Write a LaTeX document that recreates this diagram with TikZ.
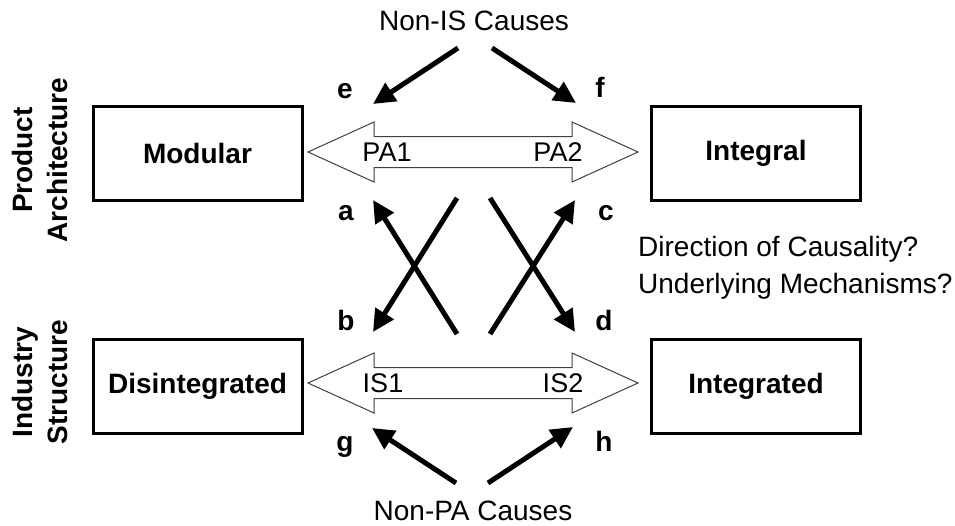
\documentclass[tikz,border=0pt]{standalone}
\usepackage{fontspec}
\setmainfont{Liberation Sans}
\usetikzlibrary{arrows.meta}
\begin{document}
\begin{tikzpicture}[x=1pt,y=-1pt,
  box/.style={draw, line width=3pt, minimum width=209pt, minimum height=94pt, inner sep=0pt,
    font=\fontsize{28}{34}\selectfont\bfseries},
  side/.style={rotate=90, align=center, inner sep=0pt, font=\fontsize{28}{35}\selectfont\bfseries},
  cause/.style={inner sep=0pt, font=\fontsize{28}{34}\selectfont},
  note/.style={inner sep=0pt, anchor=base west, font=\fontsize{28}{34}\selectfont},
  letter/.style={inner sep=0pt, anchor=base, font=\fontsize{28}{34}\selectfont\bfseries},
  dlabel/.style={inner sep=0pt, font=\fontsize{27}{32}\selectfont},
  dblarrow/.style={draw=black!75, line width=1pt, fill=white, line join=miter},
  causal/.style={line width=5pt, -{Triangle[length=22pt,width=21pt]}}
]
\useasboundingbox[fill=white] (0,0) rectangle (955,525);

% boxes
\node[box] (mod) at (197.5,153) {Modular};
\node[box] (int) at (756,153) {Integral};
\node[box] (dis) at (197.5,386) {Disintegrated};
\node[box] (intd) at (756,386) {Integrated};

% side labels
\node[side] (pa) at (40,160) {Product\\Architecture};
\node[side] (is) at (40,382) {Industry\\Structure};

% double arrows
\draw[dblarrow] (308,152) -- (374,122) -- (374,136.5) -- (572,136.5) -- (572,122) -- (638,152)
  -- (572,182) -- (572,167.5) -- (374,167.5) -- (374,182) -- cycle;
\draw[dblarrow] (308,383) -- (374,353) -- (374,367.5) -- (572,367.5) -- (572,353) -- (638,383)
  -- (572,413) -- (572,398.5) -- (374,398.5) -- (374,413) -- cycle;
\node[dlabel] (pa1) at (387,152) {PA1};
\node[dlabel] (pa2) at (558,152) {PA2};
\node[dlabel] (is1) at (383,383) {IS1};
\node[dlabel] (is2) at (563,383) {IS2};

% cause texts
\node[cause] (nis) at (474,21) {Non-IS Causes};
\node[cause] (npa) at (473,511) {Non-PA Causes};
\node[note] (q1) at (638,256) {Direction of Causality?};
\node[note] (q2) at (638,293) {Underlying Mechanisms?};

% letters
\node[letter] (le) at (345,98) {e};
\node[letter] (lf) at (600,97) {f};
\node[letter] (la) at (346,220) {a};
\node[letter] (lc) at (606,220) {c};
\node[letter] (lb) at (346,330) {b};
\node[letter] (ld) at (604,330) {d};
\node[letter] (lg) at (345,451) {g};
\node[letter] (lh) at (604,451) {h};

% arrow end points
\coordinate (nisL) at (458,48);
\coordinate (nisR) at (492,48);
\coordinate (tipE) at (373,104);
\coordinate (tipF) at (576,103);
\coordinate (xTL) at (457,198);
\coordinate (xBL) at (457,334);
\coordinate (xTR) at (490,198);
\coordinate (xBR) at (490,334);
\coordinate (tipA) at (373,200);
\coordinate (tipB) at (373,332);
\coordinate (tipC) at (575,200);
\coordinate (tipD) at (575,332);
\coordinate (npaL) at (456,483);
\coordinate (npaR) at (488,483);
\coordinate (tipG) at (372,428);
\coordinate (tipH) at (573,427);

\draw[causal] (nisL) -- (tipE);
\draw[causal] (nisR) -- (tipF);
\draw[causal] (xTL) -- (tipB);
\draw[causal] (xBL) -- (tipA);
\draw[causal] (xTR) -- (tipD);
\draw[causal] (xBR) -- (tipC);
\draw[causal] (npaL) -- (tipG);
\draw[causal] (npaR) -- (tipH);
\end{tikzpicture}
\end{document}
